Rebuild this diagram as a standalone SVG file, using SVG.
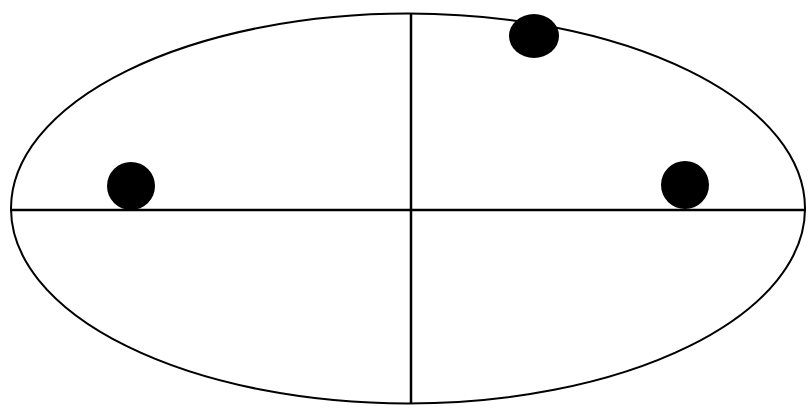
<svg xmlns="http://www.w3.org/2000/svg" width="811" height="411" viewBox="0 0 811 411">
<style>
.outline{fill:none;stroke:#000;stroke-width:2}
.axis{stroke:#000;stroke-width:2.5}
.dot{fill:#000}
</style>
<rect width="811" height="411" fill="#fff"/>
<g id="ellipse"><ellipse class="outline" cx="408" cy="208.5" rx="397" ry="195"/></g>
<g id="axes">
<line class="axis" x1="10" y1="210" x2="806" y2="210"/>
<line class="axis" x1="411" y1="13" x2="411" y2="404"/>
</g>
<g id="dot1"><circle class="dot" cx="131" cy="186" r="24"/></g>
<g id="dot2"><ellipse class="dot" cx="534" cy="36" rx="25" ry="22"/></g>
<g id="dot3"><circle class="dot" cx="685" cy="185" r="24"/></g>
</svg>
